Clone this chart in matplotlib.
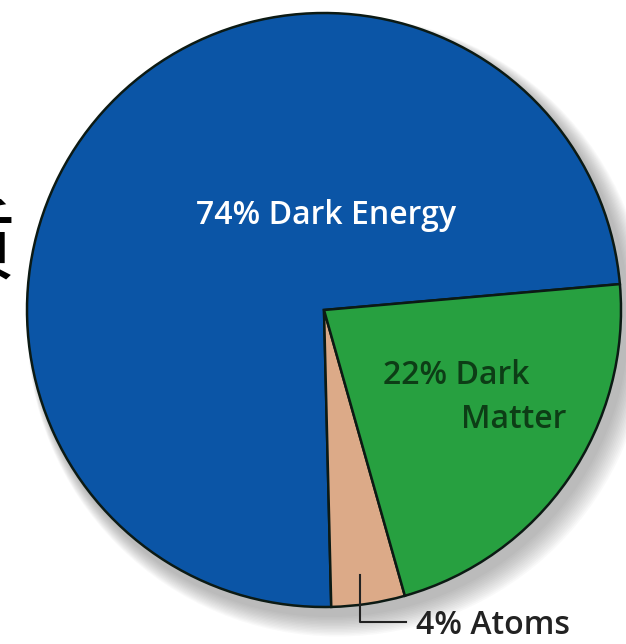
import matplotlib.pyplot as plt
from matplotlib.patches import Circle

# pie data (counter-clockwise order starting at the blue/green boundary)
labels = ["74% Dark Energy", "4% Atoms", "22% Dark\nMatter"]
shares = [74, 4, 22]
colors = ["#0b55a6", "#dcaa88", "#27a040"]

plt.rcParams['font.family'] = ['Open Sans', 'Noto Sans CJK SC', 'DejaVu Sans']

fig = plt.figure(figsize=(6.26, 6.44), dpi=100)
ax = fig.add_axes([0, 0, 1, 1])
ax.set_xlim(0, 626)
ax.set_ylim(0, 644)
ax.set_aspect('equal')
ax.axis('off')

cx, cy, r = 324, 334, 297

# soft drop shadow to the lower right
for k in range(14):
    ax.add_patch(Circle((cx + 6 + k * 0.6, cy - 8 - k * 0.6), r + 2 + k * 0.9,
                        color='#606060', alpha=0.035, lw=0, zorder=0))

ax.pie(shares, colors=colors, startangle=5, counterclock=True,
       center=(cx, cy), radius=r, frame=True,
       wedgeprops=dict(edgecolor='#0c1a14', linewidth=1.8))
ax.set_xlim(0, 626)
ax.set_ylim(0, 644)
ax.axis('off')

ax.text(326, 644 - 215, labels[0], color='white', fontsize=23,
        fontweight='semibold', ha='center', va='center')
ax.text(456, 644 - 375, "22% Dark", color='#0d3d16', fontsize=23,
        fontweight='semibold', ha='center', va='center')
ax.text(566, 644 - 420, "Matter", color='#0d3d16', fontsize=23,
        fontweight='semibold', ha='right', va='center')

# atoms label with leader line
ax.plot([360, 360, 406], [644 - 575, 644 - 622, 644 - 622], color='#222222', lw=1.5)
ax.text(416, 644 - 626, labels[1], color='#222222', fontsize=23,
        fontweight='semibold', ha='left', va='center')

# partial character cut by the left edge
ax.text(16, 644 - 248, "质", color='black', fontsize=64,
        family=['Noto Sans CJK SC'], ha='right', va='center')

fig.savefig("out.png", dpi=100)
